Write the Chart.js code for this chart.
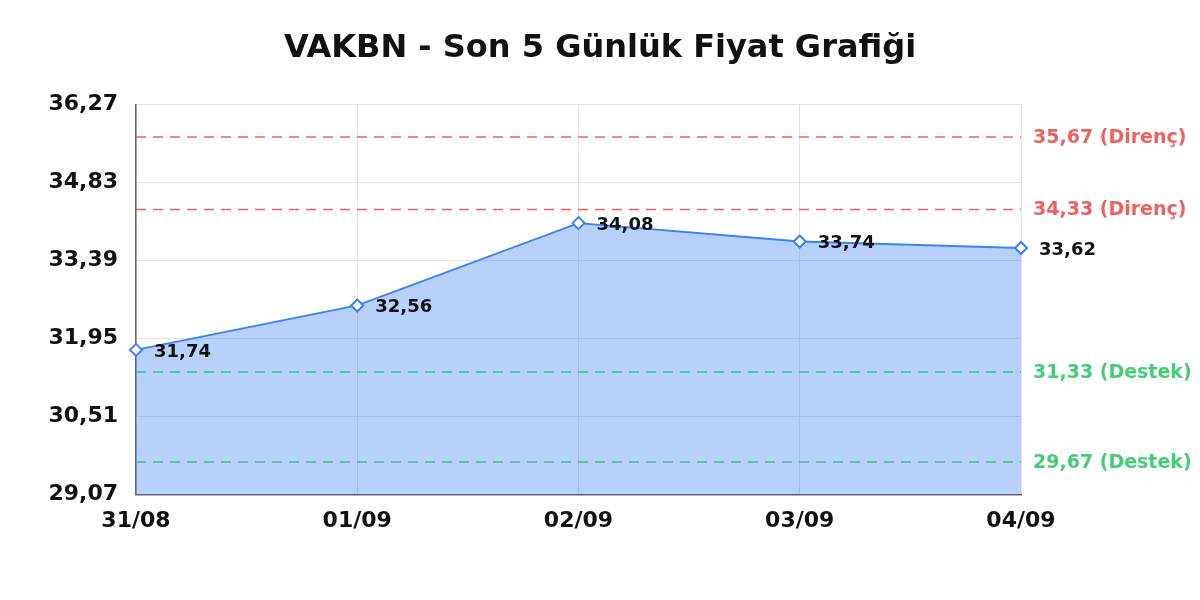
<!DOCTYPE html>
<html>
<head>
<meta charset="utf-8">
<script src="https://cdn.jsdelivr.net/npm/chart.js@4"></script>
<style>
  html, body { margin: 0; padding: 0; background: #fff; }
  canvas { display: block; }
</style>
</head>
<body>
<canvas id="priceChart" width="1200" height="600"></canvas>
<script>
// data
const dates = ["31/08", "01/09", "02/09", "03/09", "04/09"];
const prices = [31.74, 32.56, 34.08, 33.74, 33.62];
const yTicks = [29.07, 30.51, 31.95, 33.39, 34.83, 36.27];
const resistanceLevels = [35.67, 34.33];
const supportLevels = [31.33, 29.67];

const FONT = "'DejaVu Sans', sans-serif";
const fmt = v => v.toFixed(2).replace(".", ",");

// dashed support / resistance lines with labels on the right
const levelsPlugin = {
    id: "levels",
    afterDatasetsDraw(chart) {
        const ctx = chart.ctx;
        const area = chart.chartArea;
        const y = chart.scales.y;
        const draw = (val, color, text) => {
            const py = y.getPixelForValue(val);
            ctx.save();
            ctx.strokeStyle = color;
            ctx.lineWidth = 1.5;
            ctx.setLineDash([10, 7]);
            ctx.beginPath();
            ctx.moveTo(area.left, py);
            ctx.lineTo(area.right, py);
            ctx.stroke();
            ctx.setLineDash([]);
            ctx.fillStyle = color;
            ctx.font = "bold 19px " + FONT;
            ctx.textAlign = "left";
            ctx.textBaseline = "middle";
            ctx.fillText(fmt(val) + " (" + text + ")", area.right + 12, py + 1);
            ctx.restore();
        };
        resistanceLevels.forEach(v => draw(v, "rgba(239,68,68,0.85)", "Direnç"));
        supportLevels.forEach(v => draw(v, "rgba(34,197,94,0.85)", "Destek"));
    }
};

// value labels next to each point
const valueLabels = {
    id: "valueLabels",
    afterDraw(chart) {
        const ctx = chart.ctx;
        const meta = chart.getDatasetMeta(0);
        ctx.save();
        ctx.font = "bold 18px " + FONT;
        ctx.fillStyle = "#111";
        ctx.textAlign = "left";
        ctx.textBaseline = "middle";
        meta.data.forEach((pt, i) => {
            ctx.fillText(fmt(prices[i]), pt.x + 18, pt.y + 2);
        });
        ctx.restore();
    }
};

new Chart(document.getElementById("priceChart"), {
    type: "line",
    data: {
        labels: dates,
        datasets: [{
            data: prices,
            borderColor: "#3b82f6",
            borderWidth: 1.8,
            backgroundColor: "rgba(59,130,246,0.37)",
            fill: "start",
            tension: 0,
            pointStyle: "rectRot",
            pointRadius: 6,
            pointBorderWidth: 2,
            pointBackgroundColor: "#fff",
            pointBorderColor: "#3b82f6"
        }]
    },
    options: {
        responsive: false,
        animation: false,
        devicePixelRatio: 1,
        layout: { padding: { left: 0, right: 0, top: 0, bottom: 53 } },
        plugins: {
            legend: { display: false },
            tooltip: { enabled: false },
            title: {
                display: true,
                text: "VAKBN - Son 5 Günlük Fiyat Grafiği",
                color: "#111",
                font: { family: FONT, size: 32, weight: "bold" },
                padding: { top: 29, bottom: 37 }
            }
        },
        scales: {
            x: {
                offset: false,
                grid: { color: "#e3e3e3", drawTicks: false },
                border: { color: "#666", width: 1.5 },
                ticks: {
                    color: "#111",
                    padding: 13,
                    maxRotation: 0,
                    font: { family: FONT, size: 22, weight: "bold" }
                }
            },
            y: {
                min: yTicks[0],
                max: yTicks[yTicks.length - 1],
                afterBuildTicks(scale) {
                    scale.ticks = yTicks.map(v => ({ value: v }));
                },
                afterFit(scale) { scale.width = 136; },
                grid: { color: "#e3e3e3", drawTicks: false },
                border: { color: "#666", width: 1.5 },
                ticks: {
                    color: "#111",
                    padding: 18,
                    font: { family: FONT, size: 22, weight: "bold" },
                    callback: v => fmt(v)
                }
            },
            // empty right axis just to reserve room for the level labels
            yRight: {
                position: "right",
                min: yTicks[0],
                max: yTicks[yTicks.length - 1],
                grid: { display: false },
                border: { display: false },
                ticks: { display: false },
                afterFit(scale) { scale.width = 179; }
            }
        }
    },
    plugins: [levelsPlugin, valueLabels]
});
</script>
</body>
</html>
